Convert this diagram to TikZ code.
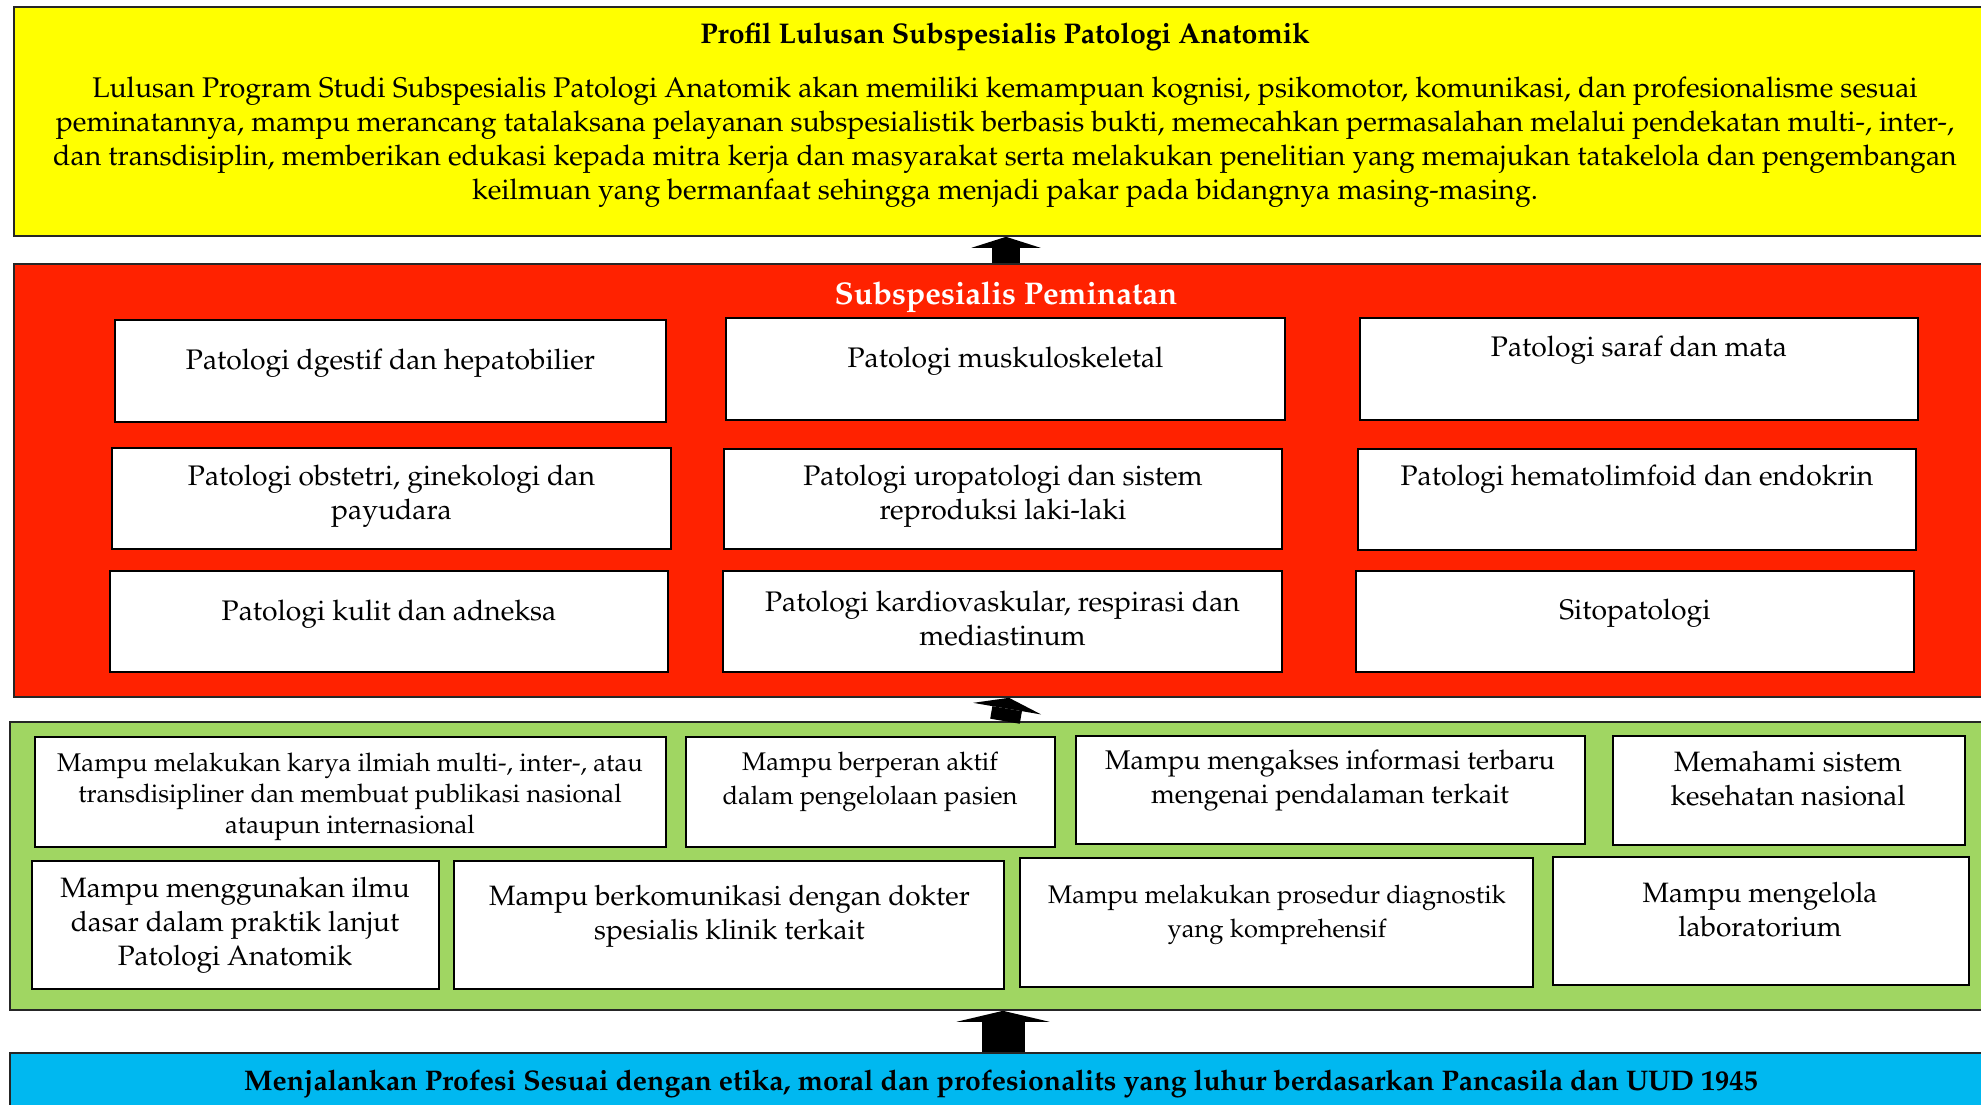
\documentclass[tikz,border=0pt]{standalone}
\usepackage[T1]{fontenc}
\usepackage{mathpazo}
\usetikzlibrary{arrows.meta}

\definecolor{profilyellow}{HTML}{FFFF00}
\definecolor{minatred}{HTML}{FF2200}
\definecolor{mampugreen}{HTML}{A0D662}
\definecolor{etikablue}{HTML}{00B8F0}

\begin{document}
\begin{tikzpicture}[x=1pt,y=-1pt,
  band/.style={draw=black!85,line width=1.6pt,inner sep=0pt,minimum width=1990pt},
  cell/.style 2 args={draw,fill=white,line width=2.2pt,inner sep=0pt,minimum width=#1pt,minimum height=#2pt},
  lbl/.style={align=center,inner sep=0pt,yshift=-3pt,font=\fontsize{#1}{34}\selectfont},
  lbl/.default=28.3,
  head/.style={align=center,inner sep=0pt,yshift=-4pt,font=\bfseries\fontsize{#1}{34}\selectfont},
  head/.default=28.4,
  blockup/.style 2 args={line width=#1pt,-{Triangle[width=#2pt,length=11pt,line width=0pt]}}]
\useasboundingbox (0,0) rectangle (1981,1104);

% profil lulusan
\node[band,fill=profilyellow,minimum height=229pt] (profil) at (1009,121.5) {};
\node[head=28.5] (profiltitle) at (1005,33) {Profil Lulusan Subspesialis Patologi Anatomik};
\node[lbl=28.4] (profiltext) at (1005,139) {Lulusan Program Studi Subspesialis Patologi Anatomik akan memiliki kemampuan kognisi, psikomotor, komunikasi, dan profesionalisme sesuai\\
peminatannya, mampu merancang tatalaksana pelayanan subspesialistik berbasis bukti, memecahkan permasalahan melalui pendekatan multi-, inter-,\\
dan transdisiplin, memberikan edukasi kepada mitra kerja dan masyarakat serta melakukan penelitian yang memajukan tatakelola dan pengembangan\\
keilmuan yang bermanfaat sehingga menjadi pakar pada bidangnya masing-masing.};

% subspesialis peminatan
\node[band,fill=minatred,minimum height=433pt] (minat) at (1009,480.5) {};
\node[head=31.4,text=white] (minattitle) at (1006,293) {Subspesialis Peminatan};
\node[cell={551}{102}] (r11) at (390.5,371) {};
\node[cell={559}{102}] (r12) at (1005.5,369) {};
\node[cell={558}{102}] (r13) at (1639,369) {};
\node[cell={559}{101}] (r21) at (391.5,498.5) {};
\node[cell={558}{100}] (r22) at (1003,499) {};
\node[cell={558}{101}] (r23) at (1637,499.5) {};
\node[cell={558}{101}] (r31) at (389,621.5) {};
\node[cell={559}{101}] (r32) at (1002.5,621.5) {};
\node[cell={558}{101}] (r33) at (1635,621.5) {};
\node[lbl] (t11) at (390.5,360) {Patologi dgestif dan hepatobilier};
\node[lbl] (t12) at (1005.5,358) {Patologi muskuloskeletal};
\node[lbl] (t13) at (1639,347) {Patologi saraf dan mata};
\node[lbl] (t21) at (391.5,493.5) {Patologi obstetri, ginekologi dan\\payudara};
\node[lbl] (t22) at (1003,493.5) {Patologi uropatologi dan sistem\\reproduksi laki-laki};
\node[lbl] (t23) at (1637,476) {Patologi hematolimfoid dan endokrin};
\node[lbl] (t31) at (389,611) {Patologi kulit dan adneksa};
\node[lbl] (t32) at (1002.5,615.5) {Patologi kardiovaskular, respirasi dan\\mediastinum};
\node[lbl] (t33) at (1635,610) {Sitopatologi};

% kompetensi
\node[band,fill=mampugreen,minimum height=288pt] (mampu) at (1005,866) {};
\node[cell={631}{110}] (g1) at (350.5,792) {};
\node[cell={369}{110}] (g2) at (870.5,792) {};
\node[cell={509}{108}] (g3) at (1330.5,790) {};
\node[cell={352}{109}] (g4) at (1789,790.5) {};
\node[cell={407}{128}] (g5) at (235.5,925) {};
\node[cell={550}{128}] (g6) at (729,925) {};
\node[cell={513}{129}] (g7) at (1276.5,922.5) {};
\node[cell={416}{128}] (g8) at (1761,921) {};
\node[lbl,font=\fontsize{25.6}{31}\selectfont] (m1) at (350,793.5) {Mampu melakukan karya ilmiah multi-, inter-, atau\\transdisipliner dan membuat publikasi nasional\\ataupun internasional};
\node[lbl=25.5] (m2) at (870,778.5) {Mampu berperan aktif\\dalam pengelolaan pasien};
\node[lbl=27] (m3) at (1330,778) {Mampu mengakses informasi terbaru\\mengenai pendalaman terkait};
\node[lbl=28] (m4) at (1788,776) {Memahami sistem\\kesehatan nasional};
\node[lbl=28] (m5) at (235,922) {Mampu menggunakan ilmu\\dasar dalam praktik lanjut\\Patologi Anatomik};
\node[lbl=28] (m6) at (729.5,913.5) {Mampu berkomunikasi dengan dokter\\spesialis klinik terkait};
\node[lbl=25.5] (m7) at (1277,911.5) {Mampu melakukan prosedur diagnostik\\yang komprehensif};
\node[lbl=28] (m8) at (1760,907) {Mampu mengelola\\laboratorium};

% etika
\node[band,fill=etikablue,minimum height=80pt] (etika) at (1005,1093) {};
\node[head] (etikatext) at (1001,1080) {Menjalankan Profesi Sesuai dengan etika, moral dan profesionalits yang luhur berdasarkan Pancasila dan UUD 1945};

\draw[blockup={28}{69}] ([xshift=-3pt]minat.north) -- ([xshift=-3pt]profil.south);
\draw[blockup={30}{69}] ([xshift=0pt]mampu.north) -- ([xshift=0pt]minat.south);
\draw[blockup={43}{93}] ([xshift=-2pt]etika.north) -- ([xshift=-2pt]mampu.south);
\end{tikzpicture}
\end{document}
